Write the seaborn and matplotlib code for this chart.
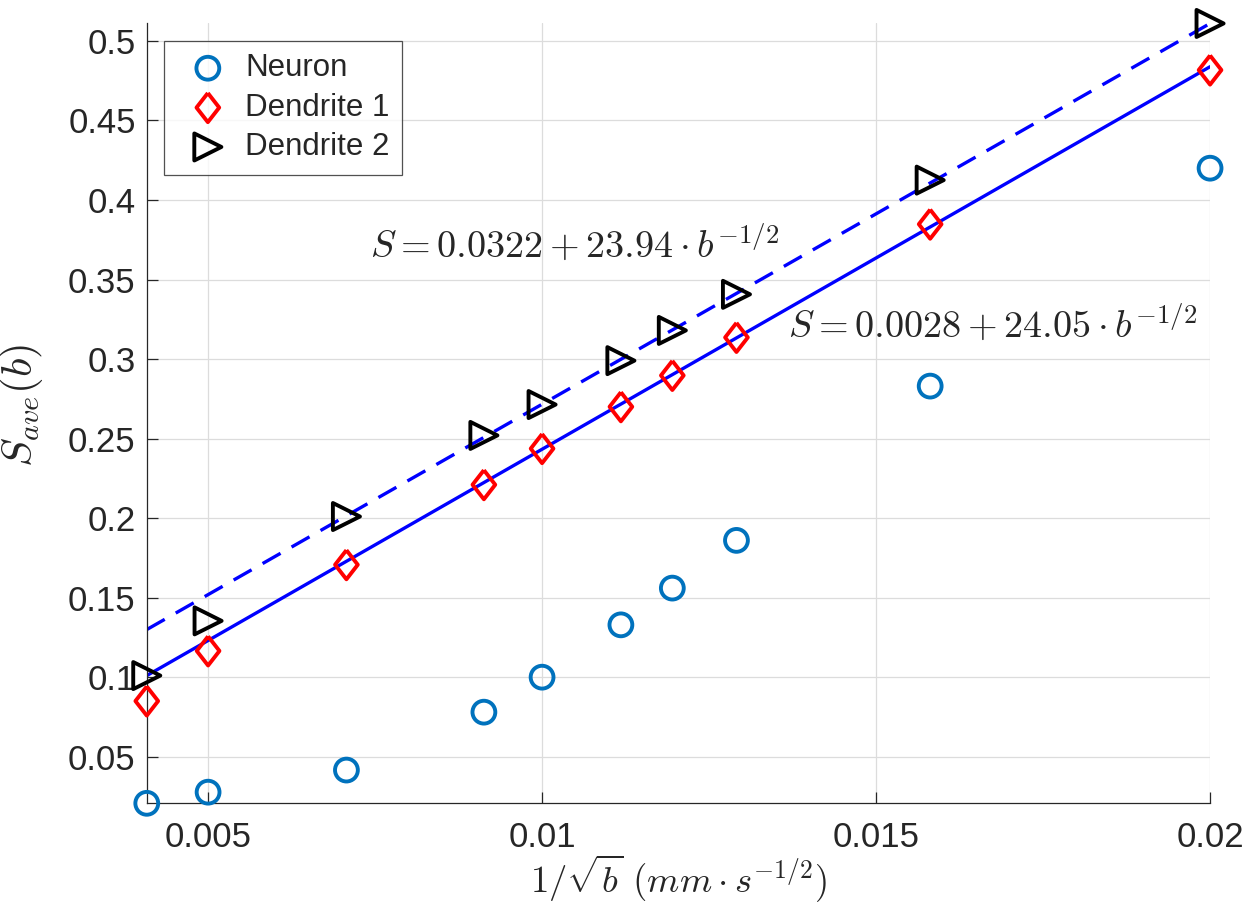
import numpy as np
import pandas as pd
import matplotlib
matplotlib.use("Agg")
import matplotlib.pyplot as plt
import seaborn as sns

sns.set_style("white")
plt.rcParams['font.family'] = ['Liberation Sans', 'DejaVu Sans']
plt.rcParams['mathtext.fontset'] = 'cm'

# 1/sqrt(b) values (b = 60000 ... 2500 s/mm^2)
inv_sqrt_b = [0.004082, 0.005, 0.007071, 0.009129, 0.01, 0.01118, 0.01195, 0.01291, 0.01581, 0.02]
neuron = [0.0207, 0.0277, 0.0416, 0.078, 0.1, 0.1329, 0.156, 0.186, 0.283, 0.420]
dendrite1 = [0.085, 0.1165, 0.1707, 0.221, 0.2437, 0.270, 0.2897, 0.3136, 0.3848, 0.4817]
dendrite2 = [0.101, 0.1354, 0.201, 0.252, 0.2714, 0.299, 0.318, 0.3407, 0.4125, 0.511]

# fitted lines S = a + k * b^(-1/2)
fit_d1 = (0.0028, 24.05)
fit_d2 = (0.0322, 23.94)

xticks = [0.005, 0.01, 0.015, 0.02]
xtick_labels = ['0.005', '0.01', '0.015', '0.02']
yticks = [0.05, 0.1, 0.15, 0.2, 0.25, 0.3, 0.35, 0.4, 0.45, 0.5]
ytick_labels = ['0.05', '0.1', '0.15', '0.2', '0.25', '0.3', '0.35', '0.4', '0.45', '0.5']

df = pd.DataFrame({'x': inv_sqrt_b, 'Neuron': neuron,
                   'Dendrite 1': dendrite1, 'Dendrite 2': dendrite2})

fig = plt.figure(figsize=(12.48, 9.08), dpi=100)
ax = fig.add_axes([0.1176, 0.1153, 0.852, 0.8594])

# fit lines
xf = np.array([min(inv_sqrt_b), max(inv_sqrt_b)])
fit_df = pd.DataFrame({'x': xf,
                       'd1': fit_d1[0] + fit_d1[1] * xf,
                       'd2': fit_d2[0] + fit_d2[1] * xf})
sns.lineplot(data=fit_df, x='x', y='d1', color='#0000ff', lw=2.4, ax=ax, zorder=2)
sns.lineplot(data=fit_df, x='x', y='d2', color='#0000ff', lw=2.4, ax=ax, zorder=2)
ax.lines[-1].set_dashes((6.2, 3.8))

# matlab-ish diamond
diamond = [(0, 1), (0.78, 0), (0, -1), (-0.78, 0), (0, 1)]

series = [('Neuron', 'o', '#0072bd', 270),
          ('Dendrite 1', diamond, '#ff0000', 440),
          ('Dendrite 2', '>', '#000000', 380)]
for name, mk, c, s in series:
    sns.scatterplot(data=df, x='x', y=name, marker=mk, s=s, facecolor='none',
                    edgecolor=c, linewidth=2.8, label=name, ax=ax, zorder=3,
                    clip_on=False)

ax.set_xlim(0.004082, 0.02)
ax.set_ylim(0.0207, 0.5113)
ax.set_xticks(xticks)
ax.set_xticklabels(xtick_labels)
ax.set_yticks(yticks)
ax.set_yticklabels(ytick_labels)
ax.grid(True, color='#dcdcdc', lw=0.9)
ax.tick_params(direction='in', length=8, width=0.9, colors='#262626',
               labelsize=25, left=True, bottom=True)
ax.tick_params(axis='x', pad=13)
ax.tick_params(axis='y', pad=8)
for sp in ['top', 'right']:
    ax.spines[sp].set_visible(False)
for sp in ['left', 'bottom']:
    ax.spines[sp].set_color('#262626')
    ax.spines[sp].set_linewidth(0.9)

ax.set_xlabel(r'$1/\sqrt{b}\ (mm\cdot s^{-1/2})$', fontsize=26.5, color='#262626', labelpad=-1)
ax.set_ylabel(r'$S_{ave}(b)$', fontsize=31, color='#262626', labelpad=2)
ax.yaxis.set_label_coords(-0.096, 0.51)

ax.text(0.01048, 0.3715, r'$S = 0.0322 + 23.94 \cdot b^{-1/2}$', fontsize=27.5,
        ha='center', va='center')
ax.text(0.01675, 0.3212, r'$S = 0.0028 + 24.05 \cdot b^{-1/2}$', fontsize=27.5,
        ha='center', va='center')

leg = ax.legend(loc='upper left', bbox_to_anchor=(0.0163, 0.977), borderaxespad=0,
                fontsize=22.5, frameon=True, fancybox=False, edgecolor='#262626',
                handletextpad=0.2, borderpad=0.4, labelspacing=0.3)
leg.get_frame().set_linewidth(0.9)

fig.savefig('out.png', dpi=100)
